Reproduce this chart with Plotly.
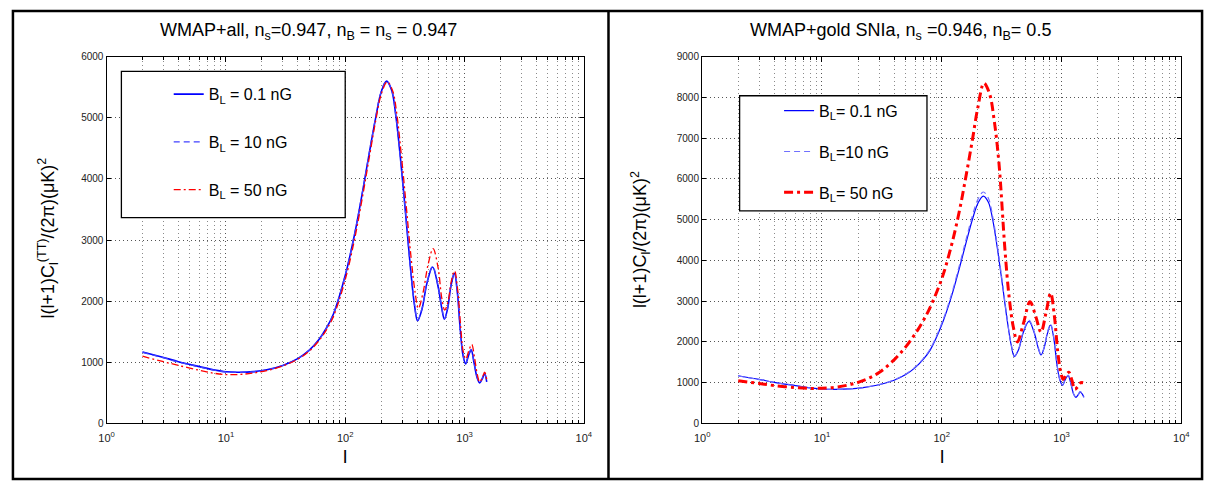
import plotly.graph_objects as go

W, H = 1216, 487

# ---------------- data ----------------
# Left panel: WMAP+all
ell_L_01 = [2, 3, 4, 6, 8, 10, 13, 17, 22, 30, 40, 50, 60, 70, 80, 100, 120, 140, 160, 180, 200, 222, 245, 265, 290, 320, 350, 380, 404, 440, 485, 540, 600, 645, 678, 720, 770, 823, 870, 920, 970, 1020, 1080, 1138, 1200, 1270, 1339, 1400, 1475, 1535]
cl_L_01 = [1170, 1080, 1010, 930, 875, 845, 838, 848, 878, 950, 1060, 1200, 1370, 1570, 1800, 2420, 3100, 3800, 4450, 5000, 5420, 5600, 5450, 5050, 4350, 3450, 2600, 1950, 1680, 1870, 2300, 2560, 2240, 1880, 1706, 1870, 2250, 2455, 2150, 1550, 1120, 975, 1110, 1200, 1000, 760, 663, 720, 810, 680]

ell_L_10 = [2, 3, 4, 6, 8, 10, 13, 17, 22, 30, 40, 50, 60, 70, 80, 100, 120, 140, 160, 180, 200, 222, 245, 265, 290, 320, 350, 380, 404, 440, 485, 540, 600, 645, 678, 720, 770, 823, 870, 920, 970, 1020, 1080, 1138, 1200, 1270, 1339, 1400, 1475, 1535]
cl_L_10 = [1165, 1075, 1005, 926, 872, 842, 836, 846, 876, 948, 1058, 1198, 1368, 1568, 1800, 2425, 3105, 3805, 4455, 5005, 5425, 5605, 5455, 5055, 4360, 3460, 2610, 1960, 1690, 1880, 2310, 2570, 2250, 1890, 1715, 1880, 2260, 2465, 2160, 1560, 1130, 985, 1120, 1210, 1010, 770, 670, 728, 818, 688]

ell_L_50 = [2, 3, 4, 6, 8, 10, 13, 17, 22, 30, 40, 50, 60, 70, 80, 100, 120, 140, 160, 180, 200, 225, 250, 270, 295, 325, 355, 385, 410, 450, 495, 545, 600, 645, 682, 725, 775, 825, 875, 925, 975, 1025, 1090, 1150, 1210, 1280, 1340, 1410, 1475, 1535]
cl_L_50 = [1100, 1010, 950, 870, 820, 800, 802, 825, 865, 940, 1050, 1185, 1350, 1540, 1760, 2350, 3020, 3720, 4380, 4950, 5380, 5590, 5440, 5080, 4400, 3550, 2750, 2150, 1880, 2150, 2600, 2860, 2550, 2050, 1856, 1980, 2330, 2497, 2200, 1620, 1180, 1053, 1200, 1294, 1090, 800, 679, 750, 840, 720]

# Right panel: WMAP+gold SNIa
ell_R_01 = [2, 3, 4, 6, 8, 10, 13, 17, 22, 30, 40, 50, 60, 70, 80, 100, 120, 140, 160, 180, 200, 222, 245, 265, 290, 320, 350, 380, 404, 440, 480, 535, 595, 640, 673, 715, 760, 810, 860, 910, 965, 1019, 1075, 1136, 1195, 1260, 1316, 1375, 1430, 1490, 1535]
cl_R_01 = [1170, 1080, 1010, 930, 875, 845, 838, 848, 878, 950, 1060, 1200, 1370, 1570, 1800, 2420, 3100, 3800, 4450, 5000, 5400, 5580, 5430, 5030, 4330, 3430, 2580, 1920, 1640, 1830, 2240, 2504, 2200, 1840, 1680, 1850, 2200, 2416, 2100, 1500, 1080, 936, 1080, 1176, 980, 720, 640, 700, 776, 720, 640]

ell_R_10 = [2, 3, 4, 6, 8, 10, 13, 17, 22, 30, 40, 50, 60, 70, 80, 100, 120, 140, 160, 180, 200, 222, 245, 265, 290, 320, 350, 380, 404, 440, 480, 535, 595, 640, 673, 715, 760, 810, 860, 910, 965, 1019, 1075, 1136, 1195, 1260, 1316, 1375, 1430, 1490, 1535]
cl_R_10 = [1165, 1075, 1005, 926, 872, 843, 837, 848, 880, 955, 1068, 1212, 1385, 1590, 1825, 2460, 3150, 3865, 4530, 5090, 5495, 5680, 5525, 5110, 4395, 3480, 2615, 1945, 1660, 1850, 2265, 2530, 2222, 1858, 1697, 1868, 2222, 2440, 2120, 1515, 1090, 945, 1090, 1188, 990, 728, 646, 707, 784, 727, 646]

ell_R_50 = [2, 3, 4, 6, 8, 10, 13, 17, 22, 30, 40, 50, 60, 70, 80, 100, 120, 140, 160, 180, 200, 225, 250, 275, 300, 337, 365, 396, 428, 480, 545, 610, 673, 740, 810, 870, 930, 985, 1033, 1090, 1151, 1220, 1291, 1380, 1450, 1514]
cl_R_50 = [1050, 980, 930, 880, 860, 865, 890, 950, 1050, 1250, 1560, 1880, 2200, 2520, 2850, 3550, 4350, 5200, 6100, 6950, 7750, 8350, 8100, 7400, 6400, 4260, 3100, 2360, 2000, 2450, 2984, 2620, 2240, 2700, 3200, 2650, 1750, 1250, 1080, 1190, 1256, 1060, 840, 920, 1000, 1000]

x_tickvals = [1, 10, 100, 1000, 10000]
x_ticktext = ["10<sup>0</sup>", "10<sup>1</sup>", "10<sup>2</sup>", "10<sup>3</sup>", "10<sup>4</sup>"]
y_ticks_L = [0, 1000, 2000, 3000, 4000, 5000, 6000]
y_ticks_R = [0, 1000, 2000, 3000, 4000, 5000, 6000, 7000, 8000, 9000]

title_L = "WMAP+all, n<sub>s</sub>=0.947, n<sub>B</sub> = n<sub>s</sub> = 0.947"
title_R = "WMAP+gold SNIa, n<sub>s</sub> =0.946, n<sub>B</sub>= 0.5"
ylabel_L = "l(l+1)C<sub>l</sub><sup>(TT)</sup>/(2π)(μK)<sup>2</sup>"
ylabel_R = "l(l+1)C<sub>l</sub>/(2π)(μK)<sup>2</sup>"
names_L = ["B<sub>L</sub> = 0.1 nG", "B<sub>L</sub> = 10 nG", "B<sub>L</sub> = 50 nG"]
names_R = ["B<sub>L</sub>= 0.1 nG", "B<sub>L</sub>=10 nG", "B<sub>L</sub>= 50 nG"]

FONT = "Liberation Sans, Arial, sans-serif"

def px_x(p):
    return p / W

def px_y(p):
    return 1 - p / H

fig = go.Figure()

# left traces
fig.add_trace(go.Scatter(x=ell_L_01, y=cl_L_01, mode="lines", name=names_L[0], legendgroup="l1",
                         line=dict(color="#0000ff", width=1.6, shape="spline", smoothing=1.0),
                         xaxis="x", yaxis="y", legend="legend"))
fig.add_trace(go.Scatter(x=ell_L_10, y=cl_L_10, mode="lines", name=names_L[1], legendgroup="l2",
                         line=dict(color="#4040ff", width=1.3, dash="6px,4px", shape="spline", smoothing=1.0),
                         xaxis="x", yaxis="y", legend="legend"))
fig.add_trace(go.Scatter(x=ell_L_50, y=cl_L_50, mode="lines", name=names_L[2], legendgroup="l3",
                         line=dict(color="#ff0000", width=1.3, dash="7px,3px,2px,3px", shape="spline", smoothing=1.0),
                         xaxis="x", yaxis="y", legend="legend"))
# right traces
fig.add_trace(go.Scatter(x=ell_R_01, y=cl_R_01, mode="lines", name=names_R[0], legendgroup="r1",
                         line=dict(color="#0000ff", width=1.2, shape="spline", smoothing=1.0),
                         xaxis="x2", yaxis="y2", legend="legend2"))
fig.add_trace(go.Scatter(x=ell_R_10, y=cl_R_10, mode="lines", name=names_R[1], legendgroup="r2",
                         line=dict(color="#7070ff", width=1.2, dash="6px,4px", shape="spline", smoothing=1.0),
                         xaxis="x2", yaxis="y2", legend="legend2"))
fig.add_trace(go.Scatter(x=ell_R_50, y=cl_R_50, mode="lines", name=names_R[2], legendgroup="r3",
                         line=dict(color="#ff0000", width=3, dash="9px,4px,3px,4px", shape="spline", smoothing=1.0),
                         xaxis="x2", yaxis="y2", legend="legend2"))

grid = dict(showgrid=True, gridcolor="#555555", griddash="1px,3px", gridwidth=1)
common_x = dict(type="log", range=[0, 4], tickmode="array", tickvals=x_tickvals, ticktext=x_ticktext,
                ticks="inside", ticklen=5, tickcolor="black", showline=True, linecolor="black", linewidth=1.3,
                mirror="ticks", tickfont=dict(family=FONT, size=11, color="#222"), ticklabelstandoff=4,
                minor=dict(dtick="D1", showgrid=True, gridcolor="#8a8a8a", griddash="1px,3px",
                           ticks="inside", ticklen=3, tickcolor="black"),
                zeroline=False, **grid)
common_y = dict(ticks="inside", ticklen=4, tickcolor="black", showline=True, linecolor="black", linewidth=1.3,
                mirror="ticks", tickfont=dict(family=FONT, size=10, color="#222"), zeroline=False, **grid)

top, bot = 52, 428
fig.update_layout(
    width=W, height=H, margin=dict(l=0, r=0, t=0, b=0),
    paper_bgcolor="white", plot_bgcolor="white",
    font=dict(family=FONT, color="black"),
    xaxis=dict(domain=[px_x(100), px_x(584)], anchor="y", **common_x),
    yaxis=dict(domain=[px_y(bot), px_y(top)], anchor="x", range=[0, 6000], tickvals=y_ticks_L, **common_y),
    xaxis2=dict(domain=[px_x(704), px_x(1190)], anchor="y2", **common_x),
    yaxis2=dict(domain=[px_y(bot), px_y(top)], anchor="x2", range=[0, 9000], tickvals=y_ticks_R, **common_y),
    legend=dict(x=px_x(163), y=px_y(73), xanchor="left", yanchor="top", bgcolor="rgba(0,0,0,0)",
                borderwidth=0, font=dict(family=FONT, size=16, color="black"),
                traceorder="grouped", tracegroupgap=24),
    legend2=dict(x=px_x(782), y=px_y(90), xanchor="left", yanchor="top", bgcolor="rgba(0,0,0,0)",
                 borderwidth=0, font=dict(family=FONT, size=16, color="black"),
                 traceorder="grouped", tracegroupgap=17),
    showlegend=True,
)

shapes = [
    # legend boxes
    dict(type="rect", xref="paper", yref="paper", x0=px_x(115), x1=px_x(342), y0=px_y(217), y1=px_y(67),
         line=dict(color="black", width=1.3), fillcolor="white", layer="above"),
    dict(type="rect", xref="paper", yref="paper", x0=px_x(742), x1=px_x(932), y0=px_y(210), y1=px_y(92),
         line=dict(color="black", width=1.3), fillcolor="white", layer="above"),
    # panel frames
    dict(type="rect", xref="paper", yref="paper", x0=px_x(5), x1=px_x(1211), y0=px_y(485), y1=px_y(5),
         line=dict(color="black", width=2.5), fillcolor="rgba(0,0,0,0)", layer="above"),
    dict(type="line", xref="paper", yref="paper", x0=px_x(609), x1=px_x(609), y0=px_y(485), y1=px_y(5),
         line=dict(color="black", width=2.5), layer="above"),
]
fig.update_layout(shapes=shapes)

ann = [
    dict(text=title_L, x=px_x(305), y=px_y(26), xref="paper", yref="paper", showarrow=False,
         font=dict(family=FONT, size=18, color="black"), xanchor="center", yanchor="middle"),
    dict(text=title_R, x=px_x(905), y=px_y(26), xref="paper", yref="paper", showarrow=False,
         font=dict(family=FONT, size=18, color="black"), xanchor="center", yanchor="middle"),
    dict(text=ylabel_L, x=px_x(40), y=px_y(238), xref="paper", yref="paper", showarrow=False, textangle=-90,
         font=dict(family=FONT, size=18, color="black"), xanchor="center", yanchor="middle"),
    dict(text=ylabel_R, x=px_x(641), y=px_y(240), xref="paper", yref="paper", showarrow=False, textangle=-90,
         font=dict(family=FONT, size=18, color="black"), xanchor="center", yanchor="middle"),
    dict(text="l", x=px_x(342), y=px_y(462), xref="paper", yref="paper", showarrow=False,
         font=dict(family=FONT, size=19, color="black"), xanchor="center", yanchor="middle"),
    dict(text="l", x=px_x(947), y=px_y(462), xref="paper", yref="paper", showarrow=False,
         font=dict(family=FONT, size=19, color="black"), xanchor="center", yanchor="middle"),
]
fig.update_layout(annotations=ann)

post = (
    "var de=document.documentElement, b=document.body;"
    "de.style.margin='0';de.style.padding='0';de.style.overflow='hidden';de.style.height='487px';"
    "b.style.margin='0';b.style.padding='0';b.style.overflow='hidden';b.style.height='487px';b.style.width='1216px';"
    "var g=document.getElementsByClassName('plotly-graph-div')[0];"
    "if(g&&g.parentElement){g.parentElement.style.height='487px';g.parentElement.style.overflow='hidden';}"
)

fig.write_html("out.html", config={"displayModeBar": False}, post_script=post)
